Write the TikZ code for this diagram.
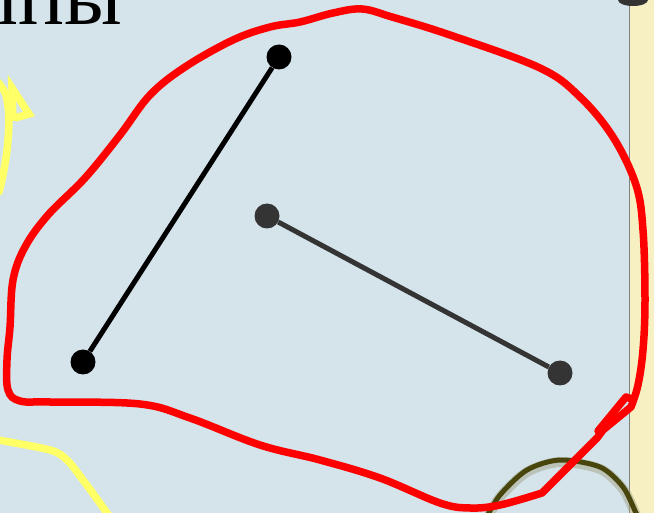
\documentclass[tikz,border=0pt]{standalone}
\usepackage{fontspec}
\setmainfont{Liberation Serif}
\definecolor{slidebg}{RGB}{212,228,234}
\definecolor{paperstrip}{RGB}{246,240,194}
\definecolor{penred}{RGB}{255,0,0}
\definecolor{penyellow}{RGB}{255,255,102}
\definecolor{arcolive}{RGB}{72,70,12}
\definecolor{segdark}{RGB}{52,52,52}
\begin{document}
\begin{tikzpicture}[x=1pt,y=-1pt,
    dot/.style={circle,fill,inner sep=0pt,minimum size=25pt},
    seg/.style={line width=5pt},
    pen/.style={line width=7.5pt,line cap=round,line join=round}]
    % Background
    \useasboundingbox (0,0) rectangle (654,513);
    \clip (0,0) rectangle (654,513);
    \fill[slidebg] (0,0) rectangle (654,513);
    \fill[paperstrip] (630,0) rectangle (654,513);
    \draw[gray, line width=1.5pt] (629.5,0) -- (629.5,513);
    \fill[black!80] (633,0) ellipse (15 and 6);
    % Title
    \node[anchor=base east, inner sep=0pt, font=\fontsize{86}{86}\selectfont] (word) at (123,25) {ппы};
    % Olive arc
    \draw[arcolive!50, line width=10pt, opacity=0.5] plot[smooth] coordinates {(486,522) (500,497) (527,472) (560,462) (600,469) (623,489) (636,515) (640,522)};
    \draw[arcolive, line width=5pt] plot[smooth] coordinates {(485,520) (500,495) (527,470) (560,460) (600,467) (623,487) (636,513) (640,520)};
    % Yellow strokes
    \draw[pen, penyellow] plot[smooth] coordinates {(-2,82) (6,95) (9,120) (7,150) (3,175) (-1,192)};
    \draw[pen, penyellow, line cap=butt, line join=miter] (13,121) -- (12,88) -- (29,114) -- (15,118);
    \draw[pen, penyellow] plot[smooth] coordinates {(-2,440) (50,450) (67,460) (83,480) (107,513) (112,522)};
    % Red loop
    \draw[pen, penred] (597,438) -- plot[smooth, tension=0.6] coordinates {(542,493) (500,505) (470,508) (440,503) (380,478) (320,460) (260,445) (190,418) (140,404) (50,402) (20,401) (8,390) (7,360) (10,327) (13,280) (25,247) (48,215) (85,178) (120,135) (150,95) (185,67) (233,40) (270,27) (300,22) (333,13) (362,9) (392,17) (450,35) (540,68) (580,97) (613,137) (636,185) (643,230) (645,300) (643,350) (638,385) (631,407)} -- (603,430) -- cycle;
    \draw[pen, penred] (598,431) -- (626,397) -- (632,399);
    % Segments
    \node[dot, black] (P1) at (83,362) {};
    \node[dot, black] (P2) at (279,57) {};
    \node[dot, segdark] (Q1) at (267,216) {};
    \node[dot, segdark] (Q2) at (560,373) {};
    \draw[seg, black] (P1) -- (P2);
    \draw[seg, segdark] (Q1) -- (Q2);
\end{tikzpicture}
\end{document}
